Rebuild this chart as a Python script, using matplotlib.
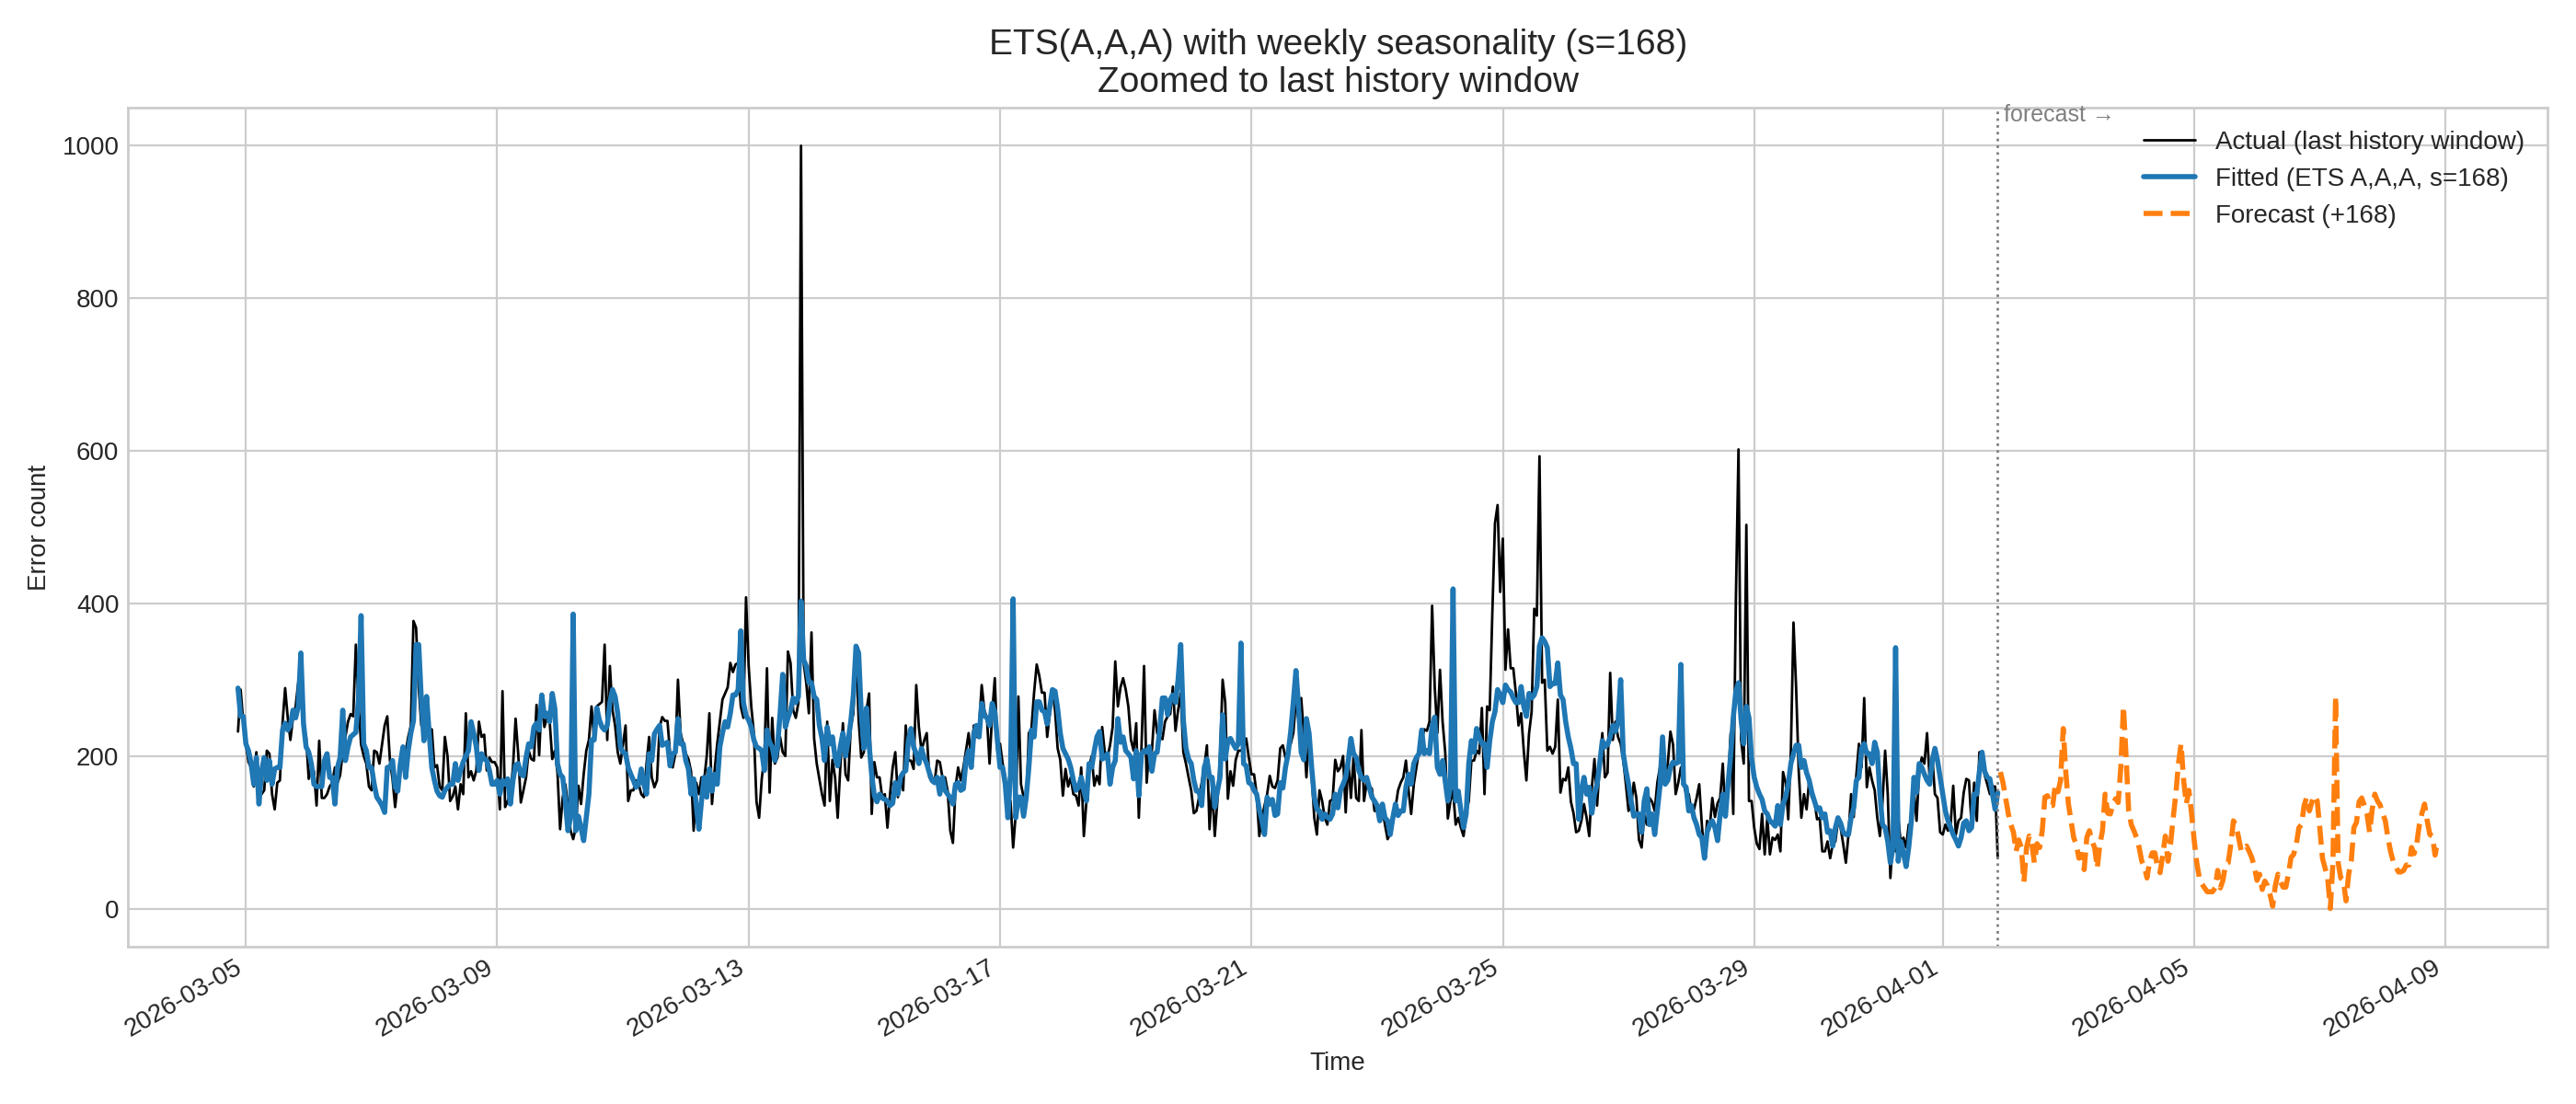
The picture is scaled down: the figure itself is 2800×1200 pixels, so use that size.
import numpy as np
import pandas as pd
import matplotlib
matplotlib.use("Agg")
import matplotlib.pyplot as plt
import matplotlib.transforms as mtransforms

# ---------------- data ----------------
history_start = "2026-03-04 21:00"

actual = [
    232, 287, 245, 216, 192, 185, 160, 205, 150, 150,
    155, 207, 203, 150, 130, 165, 168, 243, 289, 250,
    221, 250, 265, 296, 300, 240, 225, 170, 185, 180,
    135, 220, 145, 145, 150, 160, 165, 185, 165, 175,
    205, 225, 245, 255, 252, 346, 270, 215, 200, 190,
    160, 155, 207, 205, 190, 215, 240, 252, 195, 170,
    133, 165, 190, 200, 205, 225, 240, 377, 368, 290,
    240, 247, 235, 230, 235, 185, 188, 160, 155, 225,
    200, 141, 147, 160, 130, 163, 150, 256, 172, 180,
    168, 181, 245, 225, 228, 181, 198, 192, 192, 185,
    130, 285, 133, 141, 150, 185, 249, 203, 139, 155,
    172, 207, 196, 194, 267, 201, 278, 238, 250, 246,
    196, 207, 178, 104, 146, 163, 135, 102, 91, 106,
    161, 137, 176, 207, 221, 265, 221, 265, 268, 271,
    346, 221, 318, 260, 240, 205, 190, 215, 240, 141,
    155, 155, 168, 163, 150, 146, 190, 225, 172, 159,
    168, 238, 251, 246, 246, 203, 185, 203, 300, 230,
    216, 203, 196, 180, 102, 165, 150, 172, 168, 200,
    256, 137, 181, 216, 245, 274, 282, 290, 322, 310,
    320, 322, 265, 250, 408, 318, 265, 230, 140, 119,
    170, 198, 315, 152, 250, 190, 198, 225, 205, 200,
    337, 322, 260, 250, 270, 1000, 322, 296, 256, 362,
    223, 190, 170, 150, 135, 245, 141, 195, 172, 119,
    185, 243, 176, 168, 238, 256, 344, 247, 198, 205,
    260, 282, 124, 192, 172, 172, 146, 150, 106, 150,
    185, 205, 146, 172, 155, 240, 194, 194, 183, 293,
    238, 207, 220, 230, 172, 168, 165, 194, 192, 172,
    172, 154, 102, 86, 159, 185, 168, 185, 207, 230,
    194, 240, 225, 240, 293, 260, 250, 190, 256, 302,
    207, 216, 190, 172, 119, 141, 80, 124, 278, 163,
    146, 135, 230, 236, 283, 320, 305, 283, 283, 225,
    256, 287, 260, 210, 195, 148, 183, 160, 172, 150,
    148, 135, 185, 95, 141, 185, 200, 161, 174, 163,
    238, 205, 198, 214, 238, 324, 265, 290, 302, 287,
    265, 221, 207, 243, 119, 210, 318, 165, 212, 207,
    260, 230, 225, 222, 245, 252, 255, 291, 233, 260,
    282, 205, 190, 172, 155, 125, 128, 146, 165, 185,
    214, 104, 160, 95, 141, 198, 300, 270, 144, 180,
    161, 195, 207, 207, 210, 223, 198, 176, 176, 150,
    95, 119, 135, 150, 174, 160, 158, 168, 210, 214,
    198, 207, 216, 230, 274, 247, 276, 230, 172, 230,
    176, 119, 97, 155, 141, 119, 110, 141, 143, 195,
    180, 185, 200, 126, 195, 145, 199, 145, 141, 234,
    141, 165, 161, 157, 128, 128, 130, 130, 110, 91,
    98, 115, 132, 155, 165, 172, 194, 155, 124, 163,
    185, 207, 220, 235, 233, 245, 397, 290, 230, 313,
    245, 205, 118, 141, 155, 110, 119, 106, 95, 124,
    141, 194, 194, 207, 203, 263, 150, 265, 260, 388,
    505, 529, 415, 485, 313, 366, 315, 315, 282, 240,
    256, 207, 168, 229, 258, 393, 384, 593, 296, 300,
    207, 212, 203, 212, 274, 152, 170, 168, 185, 140,
    125, 100, 102, 115, 137, 119, 95, 159, 196, 135,
    190, 230, 172, 178, 309, 221, 245, 225, 216, 194,
    163, 128, 135, 165, 145, 90, 80, 123, 110, 145,
    140, 128, 165, 185, 178, 176, 190, 232, 215, 150,
    165, 185, 165, 150, 150, 128, 130, 145, 163, 110,
    70, 115, 105, 145, 120, 138, 145, 190, 120, 160,
    230, 124, 406, 602, 221, 190, 503, 141, 141, 106,
    85, 78, 124, 71, 119, 71, 93, 90, 97, 75,
    179, 165, 117, 207, 375, 290, 180, 119, 150, 130,
    168, 146, 141, 117, 119, 75, 75, 88, 66, 84,
    88, 115, 106, 84, 60, 97, 150, 120, 175, 216,
    185, 276, 159, 185, 168, 155, 119, 95, 140, 207,
    150, 40, 95, 75, 119, 85, 93, 80, 110, 110,
    155, 115, 181, 198, 190, 230, 170, 200, 150, 145,
    100, 97, 110, 102, 110, 161, 97, 115, 119, 152,
    170, 168, 110, 165, 115, 205, 200, 175, 163, 150,
    160, 160, 66,
]

fitted = [
    289, 252, 252, 216, 207, 190, 163, 198, 137, 180,
    198, 168, 194, 163, 183, 185, 185, 234, 243, 234,
    240, 260, 250, 265, 335, 243, 212, 205, 190, 163,
    160, 160, 160, 194, 203, 172, 172, 137, 185, 198,
    260, 194, 212, 225, 228, 231, 274, 384, 216, 207,
    185, 185, 163, 146, 141, 135, 126, 185, 185, 194,
    159, 154, 190, 212, 172, 207, 230, 246, 346, 346,
    274, 220, 278, 230, 185, 168, 154, 148, 146, 155,
    159, 163, 163, 190, 168, 181, 192, 200, 207, 245,
    230, 212, 181, 203, 196, 194, 181, 163, 163, 168,
    150, 168, 163, 170, 137, 168, 188, 190, 176, 174,
    198, 216, 212, 238, 243, 234, 280, 252, 256, 245,
    282, 262, 190, 176, 172, 141, 102, 119, 386, 102,
    121, 106, 89, 119, 150, 221, 221, 263, 247, 238,
    234, 240, 270, 287, 278, 256, 212, 205, 203, 185,
    176, 168, 159, 163, 183, 163, 150, 203, 194, 229,
    235, 240, 214, 216, 218, 187, 203, 205, 249, 216,
    216, 194, 183, 150, 170, 135, 104, 141, 172, 146,
    183, 154, 176, 163, 212, 230, 245, 238, 256, 280,
    280, 287, 364, 270, 253, 247, 238, 221, 212, 210,
    207, 181, 234, 218, 212, 194, 212, 255, 307, 238,
    250, 260, 276, 270, 278, 403, 326, 318, 296, 296,
    278, 274, 240, 223, 194, 238, 216, 225, 198, 187,
    212, 230, 200, 220, 245, 280, 344, 335, 256, 210,
    263, 215, 175, 148, 140, 150, 145, 143, 141, 135,
    138, 165, 150, 172, 178, 181, 220, 236, 212, 203,
    190, 210, 198, 190, 178, 168, 165, 172, 150, 172,
    155, 150, 145, 137, 163, 165, 155, 157, 194, 207,
    185, 230, 240, 225, 269, 253, 250, 240, 269, 258,
    220, 185, 185, 163, 119, 176, 406, 119, 146, 146,
    121, 146, 185, 234, 225, 271, 271, 260, 258, 242,
    264, 287, 285, 262, 230, 210, 203, 196, 185, 168,
    155, 159, 172, 154, 141, 190, 185, 207, 225, 232,
    196, 198, 203, 163, 185, 194, 249, 218, 225, 207,
    203, 198, 170, 207, 148, 203, 207, 205, 212, 180,
    203, 205, 234, 276, 276, 254, 274, 280, 270, 300,
    346, 247, 210, 196, 190, 168, 154, 154, 135, 185,
    196, 172, 172, 133, 154, 172, 254, 196, 220, 223,
    216, 210, 216, 348, 190, 187, 165, 163, 155, 150,
    130, 115, 97, 146, 137, 143, 122, 124, 165, 158,
    185, 203, 232, 270, 312, 265, 205, 195, 249, 230,
    185, 146, 130, 128, 117, 124, 120, 117, 124, 150,
    132, 155, 163, 172, 194, 223, 203, 198, 181, 172,
    168, 172, 159, 146, 141, 135, 115, 137, 119, 115,
    97, 119, 137, 122, 128, 128, 159, 176, 163, 190,
    198, 203, 234, 203, 207, 203, 240, 251, 185, 176,
    194, 168, 141, 159, 419, 141, 154, 128, 106, 124,
    190, 220, 205, 236, 225, 216, 216, 185, 220, 245,
    258, 287, 280, 270, 293, 287, 284, 276, 270, 270,
    291, 265, 252, 282, 276, 280, 291, 344, 355, 350,
    342, 291, 295, 295, 322, 280, 274, 245, 225, 210,
    190, 190, 117, 155, 172, 150, 159, 125, 150, 163,
    190, 220, 212, 215, 225, 240, 232, 245, 300, 203,
    181, 163, 141, 121, 124, 124, 100, 141, 157, 110,
    124, 97, 128, 160, 225, 163, 168, 185, 192, 190,
    192, 320, 163, 159, 128, 135, 119, 110, 97, 93,
    66, 100, 110, 115, 106, 89, 124, 150, 121, 163,
    200, 250, 285, 296, 247, 216, 265, 250, 196, 172,
    159, 150, 143, 128, 124, 115, 112, 108, 135, 110,
    137, 146, 163, 190, 203, 214, 214, 185, 194, 178,
    168, 152, 141, 130, 132, 119, 124, 100, 102, 82,
    106, 119, 112, 100, 97, 97, 119, 132, 168, 172,
    210, 216, 203, 203, 190, 218, 205, 150, 110, 106,
    88, 60, 80, 342, 62, 88, 73, 55, 80, 115,
    172, 152, 190, 185, 176, 168, 163, 194, 210, 194,
    172, 150, 128, 115, 106, 97, 90, 82, 93, 112,
    115, 102, 106, 150, 150, 180, 205, 180, 172, 170,
    150, 130, 152,
]

forecast = [
    179, 165, 145, 125, 110, 100, 75, 90, 80, 35,
    80, 95, 85, 60, 85, 80, 102, 146, 148, 135,
    135, 163, 153, 168, 236, 178, 137, 115, 93, 84,
    66, 71, 51, 93, 102, 88, 80, 53, 84, 102,
    150, 125, 124, 137, 144, 139, 185, 265, 200, 128,
    110, 102, 93, 80, 62, 55, 40, 62, 73, 73,
    55, 47, 70, 95, 62, 85, 119, 150, 190, 216,
    168, 137, 155, 125, 90, 60, 40, 32, 27, 22,
    22, 22, 27, 50, 27, 37, 58, 60, 84, 115,
    108, 93, 75, 80, 82, 75, 67, 55, 37, 45,
    25, 36, 30, 18, 3, 30, 45, 35, 28, 28,
    45, 67, 71, 84, 106, 110, 135, 146, 128, 140,
    148, 141, 105, 66, 53, 40, 0, 60, 278, 60,
    40, 37, 10, 45, 62, 106, 113, 140, 145, 135,
    124, 100, 130, 150, 141, 136, 125, 115, 93, 75,
    62, 55, 48, 48, 50, 57, 57, 80, 72, 85,
    110, 125, 137, 115, 97, 95, 70, 88,
]

title_text = "ETS(A,A,A) with weekly seasonality (s=168)\nZoomed to last history window"
label_actual = "Actual (last history window)"
label_fitted = "Fitted (ETS A,A,A, s=168)"
label_forecast = "Forecast (+168)"

# ---------------- plotting ----------------
plt.style.use("seaborn-v0_8-whitegrid")
plt.rcParams["font.family"] = ["Liberation Sans", "DejaVu Sans"]

hist_idx = pd.date_range(history_start, periods=len(actual), freq="h")
fit_idx = pd.date_range(history_start, periods=len(fitted), freq="h")
fc_idx = pd.date_range(hist_idx[-1] + pd.Timedelta(hours=1), periods=len(forecast), freq="h")

fig, ax = plt.subplots(figsize=(14, 6), dpi=200)

ax.plot(hist_idx, actual, color="black", lw=1.0, label=label_actual)
ax.plot(fit_idx, fitted, color="#1f77b4", lw=2.0, label=label_fitted)
ax.plot(fc_idx, forecast, color="#ff7f0e", lw=2.0, ls="--", label=label_forecast)

ax.axvline(hist_idx[-1], color="gray", ls=":", lw=1.0)
trans = mtransforms.blended_transform_factory(ax.transData, ax.transAxes)
ax.text(hist_idx[-1], 1.004, " forecast \u2192", transform=trans, ha="left", va="top",
        fontsize=9, color="gray")

ax.set_title(title_text, fontsize=14)
ax.set_xlabel("Time", fontsize=10)
ax.set_ylabel("Error count", fontsize=10)
ax.tick_params(labelsize=10)
ax.legend(loc="upper right", fontsize=10, frameon=False)

fig.autofmt_xdate()
fig.subplots_adjust(left=0.0497, right=0.989, top=0.9025, bottom=0.1425)
fig.savefig("out.png", dpi=200)
